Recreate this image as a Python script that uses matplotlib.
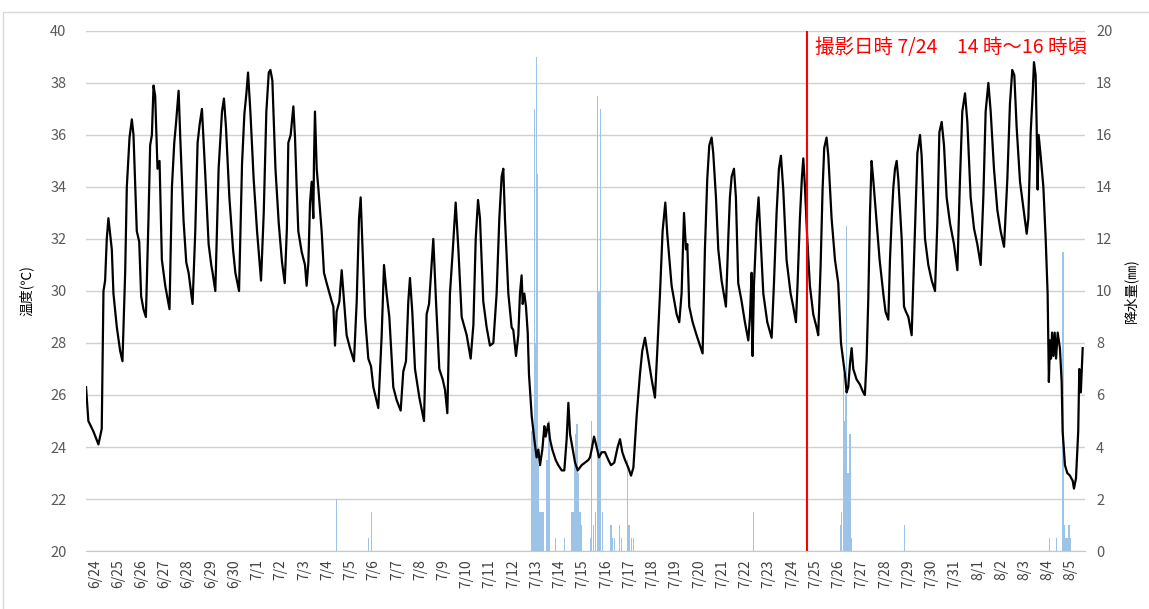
import matplotlib
matplotlib.use("Agg")
import matplotlib.pyplot as plt
import pandas as pd
from matplotlib.patches import Rectangle

plt.rcParams["font.family"] = ["Noto Sans CJK JP", "DejaVu Sans"]

# hours counted from 6/24 0:00, temperature in deg C
temp_hours = [
    -9.0, -6.6, -1.4, 3.8, 7.2, 9.0, 10.7, 12.4, 14.1, 17.6, 19.3, 22.8,
    26.2, 28.6, 31.4, 33.1, 35.9, 38.3, 40.0, 43.4, 45.9, 47.9, 50.3, 52.8,
    55.5, 57.2, 59.0, 60.7, 62.4, 64.8, 66.9, 69.3, 72.8, 77.2, 79.7, 82.1,
    83.8, 86.6, 88.3, 91.7, 94.5, 96.9, 101.0, 103.8, 106.2, 108.3, 110.7,
    114.1, 117.6, 120.3, 121.7, 124.5, 127.9, 131.4, 133.4, 135.5, 139.0,
    142.8, 145.2, 149.0, 152.1, 154.5, 156.6, 158.3, 160.7, 164.1, 167.6,
    171.7, 174.5, 177.2, 179.7, 181.4, 183.4, 186.6, 190.0, 193.4, 196.2,
    198.4, 199.9, 202.3, 205.1, 206.8, 208.5, 210.2, 213.7, 217.1, 218.8,
    220.6, 222.3, 224.0, 225.7, 226.4, 227.4, 229.2, 231.0, 234.3, 236.7,
    239.5, 244.7, 246.4, 248.1, 249.8, 252.6, 255.0, 257.4, 260.1, 263.6,
    267.7, 270.5, 272.9, 274.6, 276.7, 279.1, 282.5, 285.3, 287.7, 292.8,
    296.3, 298.7, 301.4, 304.2, 308.3, 311.8, 315.9, 318.6, 321.4, 323.8,
    325.5, 327.9, 330.7, 335.2, 340.0, 342.7, 345.2, 347.9, 349.6, 352.4,
    355.8, 359.3, 361.7, 364.1, 366.8, 369.6, 372.7, 375.5, 378.9, 384.1,
    388.2, 391.0, 393.4, 395.8, 397.8, 401.2, 404.7, 408.1, 411.6, 415.0,
    417.8, 420.2, 421.9, 423.6, 427.1, 430.5, 432.2, 435.0, 437.4, 439.1,
    440.8, 441.9, 443.6, 445.3, 447.1, 448.4, 451.2, 453.9, 456.3, 458.1,
    459.8, 462.2, 464.3, 465.6, 468.4, 470.1, 472.5, 476.0, 478.7, 482.2,
    484.9, 487.3, 489.1, 490.8, 493.2, 496.0, 498.7, 502.8, 506.3, 509.7,
    511.4, 513.1, 515.6, 518.3, 520.7, 523.5, 526.9, 530.4, 533.1, 536.5,
    540.0, 542.4, 544.8, 547.6, 551.0, 553.8, 556.2, 559.6, 563.0, 565.4,
    568.2, 571.6, 575.1, 578.5, 580.9, 583.7, 586.4, 589.2, 591.2, 595.7,
    600.9, 603.6, 606.0, 608.5, 610.5, 611.9, 613.9, 617.4, 621.5, 625.0,
    627.7, 630.1, 632.5, 634.6, 637.0, 638.7, 641.5, 643.9, 647.3, 651.8,
    654.2, 655.9, 657.7, 660.1, 662.1, 664.5, 668.0, 671.4, 674.9, 676.6,
    678.3, 679.3, 680.7, 683.5, 685.5, 687.6, 690.4, 694.5, 699.0, 701.4,
    704.1, 706.5, 708.6, 711.0, 714.4, 718.6, 721.3, 724.1, 725.8, 728.2,
    730.3, 731.7, 733.4, 735.8, 738.5, 742.0, 745.4, 747.1, 749.6, 751.6,
    753.3, 755.7, 757.5, 760.9, 764.4, 767.8, 770.6, 772.3, 774.7, 776.4,
    778.1, 779.9, 781.6, 783.3, 786.7, 790.2, 793.6, 795.3, 797.1, 798.8,
    800.5, 802.2, 803.9, 806.7, 810.5, 814.3, 816.6, 819.5, 821.2, 823.0,
    824.7, 826.4, 828.1, 829.8, 833.3, 835.7, 837.7, 840.2, 843.6, 845.3,
    847.0, 849.5, 852.2, 853.9, 857.4, 860.8, 864.3, 867.7, 870.1, 872.2,
    874.6, 877.0, 879.7, 883.2, 887.3, 890.8, 893.5, 895.9, 898.7, 901.1,
    904.5, 908.0, 911.4, 914.9, 917.6, 920.0, 922.8, 925.2, 928.6, 932.1,
    935.5, 939.0, 942.4, 945.1, 947.5, 949.6, 952.0, 955.5, 959.6, 962.4,
    964.1, 966.5, 968.6, 969.9, 971.6, 972.7, 973.7, 974.7, 976.8, 979.6,
    982.0, 984.0, 985.3, 986.4, 987.5, 988.6, 990.0, 991.3, 992.7, 994.4,
    996.7, 998.5, 999.5, 1001.9, 1004.3, 1007.0, 1009.9, 1011.2, 1013.3,
    1015.6, 1016.7, 1018.3, 1020.2,
]
temp_values = [
    26.3, 25.0, 24.6, 24.1, 24.7, 30.0, 30.4, 32.0, 32.8, 31.6, 29.9, 28.6,
    27.7, 27.3, 30.7, 34.0, 35.9, 36.6, 36.0, 32.3, 31.9, 29.8, 29.3, 29.0,
    32.8, 35.6, 36.0, 37.9, 37.5, 34.7, 35.0, 31.2, 30.2, 29.3, 34.0, 35.7,
    36.4, 37.7, 35.9, 32.7, 31.1, 30.7, 29.5, 32.3, 35.7, 36.4, 37.0,
    34.5, 31.8, 31.0, 30.7, 30.0, 34.7, 36.9, 37.4, 36.3, 33.6,
    31.6, 30.7, 30.0, 34.9, 36.8, 37.6, 38.4, 36.9, 34.3, 32.3,
    30.4, 33.0, 36.9, 38.4, 38.5, 38.1, 34.7, 32.6, 31.1, 30.3,
    32.4, 35.7, 36.0, 37.1, 35.9, 34.0, 32.3, 31.5, 31.0, 30.2,
    31.1, 33.4, 34.2, 32.8, 35.0, 36.9, 34.7, 33.9, 32.3, 30.7,
    30.3, 29.6, 29.4, 27.9, 29.2, 29.6, 30.8, 29.6, 28.3, 27.8,
    27.3, 29.6, 32.8, 33.6, 31.5, 29.0, 27.4, 27.1, 26.3, 25.5,
    28.3, 31.0, 29.9, 29.0, 26.3, 25.8, 25.4, 26.9, 27.3, 29.6,
    30.5, 29.2, 27.0, 25.9, 25.0, 29.1, 29.5, 31.0, 32.0, 29.6,
    27.0, 26.6, 26.2, 25.3, 29.9, 31.5, 33.4, 31.6, 29.0, 28.3,
    27.4, 28.7, 32.0, 33.5, 32.8, 29.6, 28.6, 27.9, 28.0, 29.9,
    32.8, 34.4, 34.7, 32.8, 29.9, 28.6, 28.5, 27.5, 28.3, 29.9,
    30.6, 29.5, 29.9, 29.4, 28.4, 26.8, 25.2, 24.3, 23.6, 23.9,
    23.3, 23.9, 24.8, 24.4, 24.9, 24.3, 23.9, 23.5, 23.3, 23.1,
    23.1, 24.3, 25.7, 24.5, 24.0, 23.4, 23.1, 23.3, 23.4, 23.5,
    23.6, 23.9, 24.4, 24.0, 23.6, 23.8, 23.8, 23.5, 23.3, 23.4,
    24.0, 24.3, 23.8, 23.5, 23.2, 22.9, 23.2, 25.2, 26.8, 27.7,
    28.2, 27.4, 26.6, 25.9, 27.7, 29.9, 32.3, 33.4, 32.2, 30.2,
    29.1, 28.8, 29.9, 33.0, 31.6, 31.8, 29.4, 28.8, 28.3, 27.9,
    27.6, 31.6, 34.3, 35.6, 35.9, 35.3, 33.6, 31.6, 30.4, 29.4,
    32.0, 33.6, 34.4, 34.7, 33.6, 30.3, 29.6, 28.8, 28.1, 29.0,
    30.7, 27.5, 30.2, 32.6, 33.6, 32.0, 29.9, 28.8, 28.2, 30.3,
    33.0, 34.7, 35.2, 33.9, 31.2, 29.9, 29.4, 28.8, 30.3, 32.8,
    34.4, 35.1, 34.0, 32.0, 30.2, 29.1, 28.6, 28.3, 31.0, 33.9,
    35.5, 35.9, 35.2, 32.8, 31.2, 30.3, 28.0, 27.5, 26.8, 26.1,
    26.3, 27.2, 27.8, 27.0, 26.6, 26.4, 26.1, 26.0, 27.4, 29.7,
    32.9, 35.0, 34.3, 33.0, 31.2, 29.9, 29.2, 28.9, 31.2, 32.8,
    34.0, 34.7, 35.0, 34.3, 32.0, 29.4, 29.2, 29.0, 28.3, 30.3,
    32.3, 35.3, 36.0, 35.2, 32.0, 31.0, 30.4, 30.0, 32.6, 36.1,
    36.5, 35.6, 33.6, 32.6, 31.8, 30.8, 34.3, 36.9, 37.6, 36.5,
    33.6, 32.4, 31.8, 31.0, 33.6, 36.9, 38.0, 36.9, 34.7, 33.1,
    32.3, 31.7, 34.3, 37.2, 38.5, 38.3, 36.3, 34.2, 33.0, 32.2,
    32.8, 36.1, 37.6, 38.8, 38.3, 36.3, 33.9, 36.0, 35.2, 34.0,
    32.0, 29.9, 26.5, 28.1, 27.4, 28.4, 27.5, 28.4, 27.4, 28.4,
    27.8, 26.5, 24.6, 23.3, 23.0, 22.9, 22.7, 22.4, 22.8,
    24.6, 27.0, 26.1, 27.8,
]

# hourly rainfall (mm), only the hours with rain
rain_hours = [
    250, 283, 286,
    451, 452, 453, 454, 455, 456, 457, 458, 459, 460, 461, 462, 463,
    467, 469, 476, 485, 492, 494, 496, 497, 498, 499, 501, 503,
    512, 513, 515, 517, 519, 520, 521, 522, 524,
    533, 535, 537, 542, 544, 550, 551, 552, 554, 556,
    680,
    770, 771, 773, 774, 775, 776, 777, 778, 779, 780, 781,
    836,
    986, 993, 1000, 1001, 1002, 1003, 1005, 1006, 1007,
]
rain_mm = [
    2.0, 0.5, 1.5,
    4.6, 4.6, 4.6, 17.0, 8.0, 19.0, 14.5, 3.3, 1.5, 1.5, 1.5, 1.5, 1.5,
    3.5, 5.0, 0.5, 0.5, 1.5, 1.5, 3.5, 4.5, 4.9, 3.0, 1.5, 1.0,
    0.5, 5.0, 1.0, 1.5, 17.5, 10.0, 10.0, 17.0, 1.5,
    1.0, 0.5, 0.5, 1.0, 0.5, 3.5, 1.0, 1.0, 0.5, 0.5,
    1.5,
    1.0, 1.5, 6.8, 5.0, 6.0, 12.5, 3.0, 3.0, 3.0, 4.5, 0.5,
    1.0,
    0.5, 0.5, 11.5, 1.0, 0.5, 0.5, 0.5, 1.0, 0.5,
]

dates = pd.date_range("2019-06-24", "2019-08-05", freq="D")
date_labels = [f"{d.month}/{d.day}" for d in dates]
shot_hour = 30 * 24 + 15  # 7/24 15:00
shot_text = "撮影日時 7/24　14 時～16 時頃"

fig = plt.figure(figsize=(11.49, 6.09), dpi=100)
ax2 = fig.add_axes([0.0748, 0.0952, 0.8695, 0.854])
ax = ax2.twinx()
ax.yaxis.tick_left()
ax.yaxis.set_label_position("left")
ax2.yaxis.tick_right()
ax2.yaxis.set_label_position("right")

# rain bars + grid on the rain axis (same scale, 0-20 <-> 20-40)
ax2.bar(rain_hours, rain_mm, width=1.3, color="#9dc3e6", linewidth=0,
        antialiased=False, zorder=2)
ax2.set_ylim(0, 20)
ax2.set_yticks(range(0, 21, 2))
ax2.grid(axis="y", color="#d0d0d0", linewidth=1.0, zorder=0)
ax2.set_axisbelow(True)
ax2.set_ylabel("降水量(㎜)", fontsize=10, labelpad=8)

ax.plot(temp_hours, temp_values, color="black", linewidth=1.6, zorder=3)
ax.set_ylim(20, 40)
ax.set_yticks(range(20, 41, 2))
ax.set_ylabel("温度(℃)", fontsize=10, labelpad=12)

ax.axvline(shot_hour, color="red", linewidth=1.5, zorder=4)
ax.text(shot_hour + 9, 39.35, shot_text, color="red", fontsize=14,
        va="center", ha="left", zorder=5)

ax2.set_xlim(-9.1, 1022.6)
ax2.set_xticks([24 * i for i in range(len(date_labels))])
ax2.set_xticklabels(date_labels, rotation=90, fontsize=10, color="#404040")

for a in (ax, ax2):
    for s in a.spines.values():
        s.set_visible(False)
ax2.spines["bottom"].set_visible(True)
ax2.spines["bottom"].set_color("#c8c8c8")

ax.tick_params(axis="y", length=0, pad=14, labelsize=10.5, labelcolor="#595959")
ax2.tick_params(axis="y", length=0, pad=8, labelsize=10.5, labelcolor="#595959")
ax2.tick_params(axis="x", length=0, pad=6)

fig.add_artist(Rectangle((3 / 1149, -0.1), 1.2, (609 - 12) / 609 + 0.1,
                         transform=fig.transFigure, fill=False,
                         edgecolor="#d9d9d9", linewidth=1))

fig.savefig("out.png", dpi=100)
